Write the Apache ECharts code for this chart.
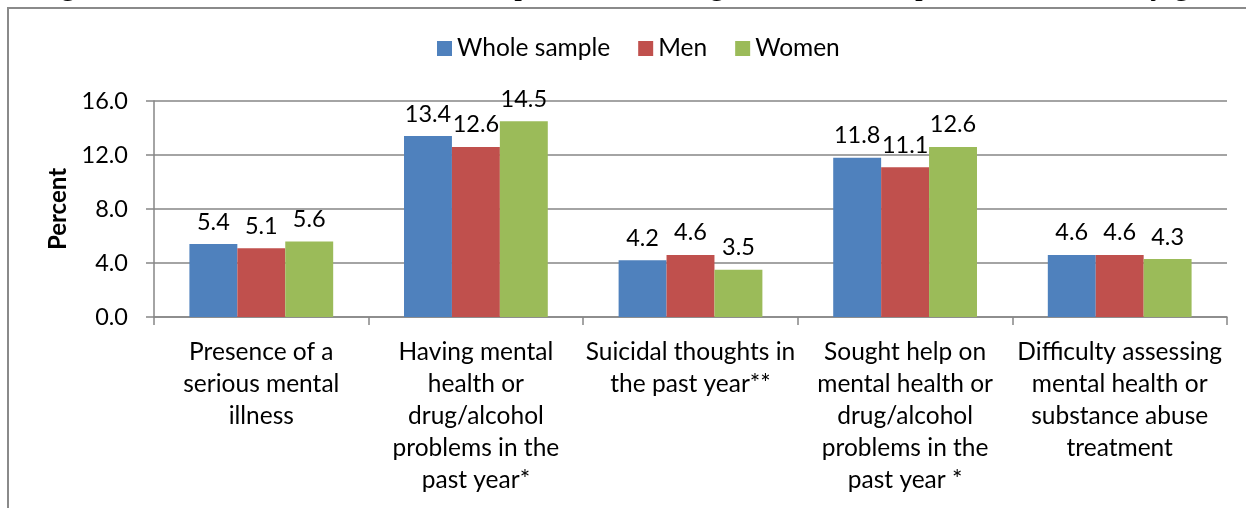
<!DOCTYPE html>
<html>
<head>
<meta charset="utf-8">
<script src="https://cdn.jsdelivr.net/npm/echarts@6/dist/echarts.min.js"></script>
<style>
  html, body { margin: 0; padding: 0; background: #fff; }
  #chart { width: 1246px; height: 508px; }
</style>
</head>
<body>
<div id="chart"></div>
<script>
// Prevalence of mental health problems, whole sample and by gender (percent)
const categories = [
  'Presence of a\nserious mental\nillness',
  'Having mental\nhealth or\ndrug/alcohol\nproblems in the\npast year*',
  'Suicidal thoughts in\nthe past year**',
  'Sought help on\nmental health or\ndrug/alcohol\nproblems in the\npast year *',
  'Difficulty assessing\nmental health or\nsubstance abuse\ntreatment'
];
const seriesNames = ['Whole sample', 'Men', 'Women'];
const wholeSample = [5.4, 13.4, 4.2, 11.8, 4.6];
const men = [5.1, 12.6, 4.6, 11.1, 4.6];
const women = [5.6, 14.5, 3.5, 12.6, 4.3];
const seriesColors = ['#4F81BD', '#C0504D', '#9BBB59'];
const yTicks = { min: 0, max: 16, interval: 4 };
const titleText = 'Figure 3. Prevalence of mental health problems among the whole sample and stratified by gender';

const FONT = 'Lato, "Open Sans", sans-serif';
const AXIS_GRAY = '#868686';

const chart = echarts.init(document.getElementById('chart'), null, { renderer: 'canvas' });

const values = [wholeSample, men, women];

chart.setOption({
  animation: false,
  backgroundColor: '#ffffff',
  textStyle: { fontFamily: FONT, color: '#000' },
  graphic: [
    {
      type: 'rect',
      silent: true,
      shape: { x: 8, y: 8, width: 1400, height: 700 },
      style: { fill: 'none', stroke: '#8a8a8a', lineWidth: 2 }
    },
    {
      // figure caption running above the chart frame
      type: 'text',
      silent: true,
      left: 34,
      top: -30,
      style: {
        text: titleText,
        font: '31.5px "Liberation Serif", "Times New Roman", serif',
        fill: '#000'
      }
    }
  ],
  legend: {
    top: 31,
    left: 432,
    itemWidth: 15,
    itemHeight: 15,
    itemGap: 28,
    icon: 'rect',
    textStyle: { fontFamily: FONT, fontSize: 24.5, color: '#000', padding: [0, 0, 0, 0] },
    data: seriesNames
  },
  grid: {
    left: 154,
    right: 19,
    top: 101,
    bottom: 191,
    containLabel: false
  },
  xAxis: {
    type: 'category',
    data: categories,
    boundaryGap: true,
    axisLine: { show: true, lineStyle: { color: AXIS_GRAY, width: 1.5 } },
    axisTick: { show: true, length: 8, alignWithLabel: false, lineStyle: { color: AXIS_GRAY, width: 1.5 } },
    axisLabel: {
      interval: 0,
      margin: 19,
      fontFamily: FONT,
      fontSize: 24.5,
      lineHeight: 32,
      color: '#000',
      align: 'center'
    },
    splitLine: { show: false }
  },
  yAxis: {
    type: 'value',
    min: yTicks.min,
    max: yTicks.max,
    interval: yTicks.interval,
    name: 'Percent',
    nameLocation: 'middle',
    nameGap: 80,
    nameRotate: 90,
    nameTextStyle: { fontFamily: FONT, fontSize: 24, fontWeight: 'bold', color: '#000' },
    axisLine: { show: true, lineStyle: { color: AXIS_GRAY, width: 1.5 } },
    axisTick: { show: true, length: 8, lineStyle: { color: AXIS_GRAY, width: 1.5 } },
    axisLabel: {
      margin: 26,
      fontFamily: FONT,
      fontSize: 23.5,
      color: '#000',
      formatter: v => v.toFixed(1)
    },
    splitLine: { show: true, lineStyle: { color: AXIS_GRAY, width: 1.5 } }
  },
  series: seriesNames.map((name, i) => ({
    name: name,
    type: 'bar',
    data: values[i],
    barGap: '0%',
    barCategoryGap: '33%',
    itemStyle: { color: seriesColors[i] },
    label: {
      show: true,
      position: 'top',
      distance: 10,
      fontFamily: FONT,
      fontSize: 23.5,
      color: '#000',
      formatter: p => p.value.toFixed(1)
    }
  }))
});
</script>
</body>
</html>
